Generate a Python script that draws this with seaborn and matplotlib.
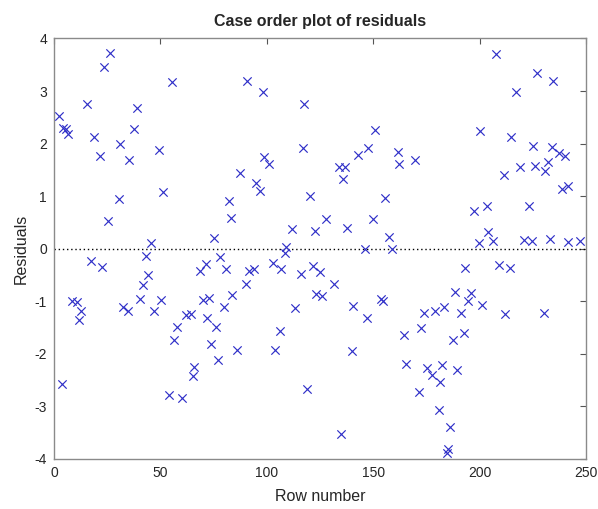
import matplotlib
matplotlib.use("Agg")
import matplotlib.pyplot as plt
import seaborn as sns
import pandas as pd

row_number = [2.5, 3.7, 4.3, 5.5, 6.7, 8.3, 10.6, 11.8, 12.5, 15.7, 17.4, 18.6, 21.5, 22.6, 23.4,
              25.6, 26.5, 30.7, 31.0, 32.6, 34.7, 35.2, 37.7, 39.1, 40.3, 41.7, 43.1, 44.4, 45.7,
              47.2, 49.5, 50.1, 51.4, 54.1, 55.3, 56.2, 57.9, 60.3, 62.0, 64.6, 65.1, 66.0, 68.5,
              70.1, 71.3, 72.0, 72.8, 74.0, 75.4, 76.0, 77.1, 78.2, 79.9, 81.0, 82.2, 83.3, 83.8,
              86.1, 87.2, 90.2, 90.8, 91.6, 94.1, 94.7, 97.0, 98.3, 98.7, 100.9, 102.8, 103.9,
              106.2, 106.9, 108.7, 109.2, 111.8, 113.4, 115.9, 117.0, 117.6, 118.7, 120.1, 121.8,
              122.5, 123.2, 125.1, 125.9, 128.0, 131.8, 134.0, 134.7, 135.8, 136.8, 137.7, 139.9,
              140.5, 142.8, 146.1, 146.9, 147.5, 149.9, 150.9, 153.6, 154.8, 155.3, 157.6, 159.0,
              161.5, 162.3, 164.5, 165.6, 169.6, 171.6, 172.6, 173.7, 175.2, 177.6, 179.1, 180.7,
              181.2, 182.4, 183.2, 184.6, 185.2, 186.3, 187.4, 188.5, 189.4, 191.3, 192.5, 193.3,
              194.4, 196.0, 197.2, 199.7, 200.0, 201.1, 203.4, 204.1, 206.5, 207.5, 208.9, 211.5,
              212.0, 214.2, 214.9, 217.3, 219.0, 220.7, 223.2, 224.4, 225.2, 226.0, 226.8, 230.2,
              230.7, 232.2, 233.3, 233.8, 234.7, 237.2, 238.9, 240.3, 241.4, 241.6, 247.0]

residuals = [2.52, -2.58, 2.29, 2.27, 2.18, -0.99, -1.02, -1.36, -1.18, 2.76, -0.24, 2.12, 1.77, -0.35, 3.46,
             0.52, 3.73, 0.94, 1.99, -1.12, -1.19, 1.68, 2.27, 2.68, -0.96, -0.69, -0.14, -0.50, 0.11,
             -1.19, 1.87, -0.98, 1.08, -2.78, 3.17, -1.74, -1.49, -2.84, -1.27, -1.25, -2.43, -2.26, -0.42,
             -0.98, -0.30, -1.33, -0.94, -1.81, 0.21, -1.50, -2.12, -0.16, -1.12, -0.39, 0.91, 0.58, -0.89,
             -1.93, 1.43, -0.67, 3.19, -0.43, -0.39, 1.24, 1.10, 2.98, 1.74, 1.61, -0.28, -1.93,
             -1.57, -0.39, -0.08, 0.03, 0.37, -1.14, -0.48, 1.92, 2.76, -2.67, 1.01, -0.34,
             0.34, -0.86, -0.44, -0.91, 0.57, -0.67, 1.56, -3.53, 1.33, 1.56, 0.39, -1.95,
             -1.10, 1.79, 0.00, -1.33, 1.92, 0.56, 2.25, -0.96, -1.00, 0.96, 0.23, 0.00,
             1.84, 1.61, -1.65, -2.19, 1.68, -2.73, -1.52, -1.22, -2.27, -2.41, -1.18, -3.07,
             -2.54, -2.21, -1.11, -3.90, -3.82, -3.40, -1.74, -0.83, -2.31, -1.22, -1.60, -0.37,
             -1.00, -0.84, 0.72, 0.11, 2.24, -1.08, 0.81, 0.32, 0.14, 3.71, -0.32, 1.41,
             -1.24, -0.37, 2.12, 2.98, 1.55, 0.16, 0.81, 0.15, 1.96, 1.57, 3.35, -1.22,
             1.48, 1.65, 0.18, 1.94, 3.19, 1.82, 1.14, 1.77, 0.13, 1.20, 0.14]

x_ticks = [0, 50, 100, 150, 200, 250]
y_ticks = [-4, -3, -2, -1, 0, 1, 2, 3, 4]

sns.set_style("white")
plt.rcParams['font.family'] = ['Liberation Sans', 'DejaVu Sans']
plt.rcParams['axes.unicode_minus'] = False

df = pd.DataFrame({"Row number": row_number, "Residuals": residuals})

fig = plt.figure(figsize=(5.98, 5.09), dpi=100)
fig.patch.set_facecolor("white")
ax = fig.add_axes([0.0903, 0.0988, 0.8897, 0.8256])

sns.scatterplot(data=df, x="Row number", y="Residuals", marker="x", color="#3030c8",
                s=36, linewidth=0.85, ax=ax, zorder=3)
ax.axhline(0, color="black", linestyle=(0, (1, 2)), linewidth=1.0, zorder=2)

ax.set_xlim(0, 250)
ax.set_ylim(-4, 4)
ax.set_xticks(x_ticks)
ax.set_yticks(y_ticks)
ax.tick_params(direction="in", length=4, width=0.8, color="#555555",
               top=True, right=True, labelsize=10, labelcolor="#262626", pad=5)
for sp in ax.spines.values():
    sp.set_color("#8a8a8a")
    sp.set_linewidth(1.0)

ax.set_title("Case order plot of residuals", fontsize=11.5, fontweight="bold", pad=9)
ax.set_xlabel("Row number", fontsize=11.5, color="#262626", labelpad=7)
ax.set_ylabel("Residuals", fontsize=11.5, color="#262626", labelpad=4)

fig.savefig("out.png", dpi=100, facecolor="white")
